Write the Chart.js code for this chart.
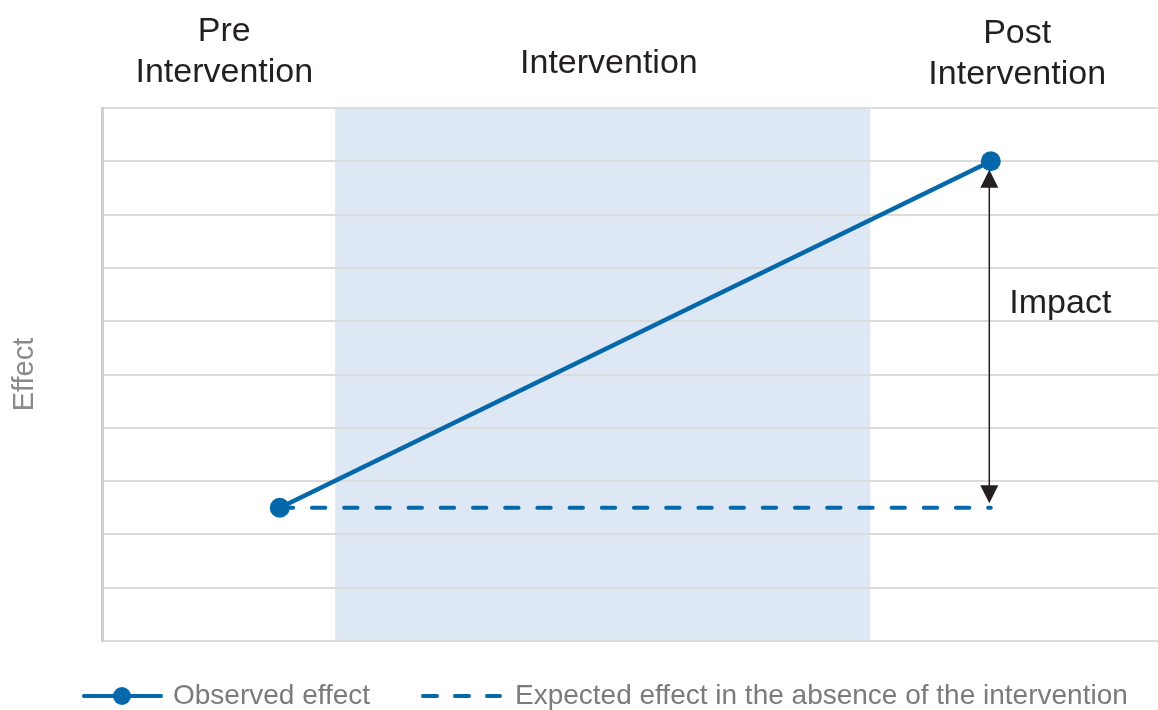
<!DOCTYPE html>
<html>
<head>
<meta charset="utf-8">
<title>Intervention impact</title>
<script src="https://cdn.jsdelivr.net/npm/chart.js@4.4.1/dist/chart.umd.min.js"></script>
<style>
  html, body { margin: 0; padding: 0; background: #ffffff; }
  #wrap { width: 1158px; height: 710px; position: relative; }
</style>
</head>
<body>
<div id="wrap"><canvas id="chart" width="1158" height="710"></canvas></div>
<script>
// Time axis positions (arbitrary units) and effect values
const timePoints = [2.02, 10.1];
const observedEffect = [2.5, 9];
const expectedEffect = [2.5, 2.5];

// Phase headings and where they sit along the time axis
const phaseLabels = [["Pre", "Intervention"], ["Intervention"], ["Post", "Intervention"]];
const phaseCenters = [1.39, 5.76, 10.4];

// Intervention period (shaded band)
const interventionSpan = [2.65, 8.73];

const legendLabels = ["Observed effect", "Expected effect in the absence of the intervention"];
const impactLabel = "Impact";
const axisTitle = "Effect";

const BLUE = "#0568aa";
const FONT = "'Liberation Sans', Arial, Helvetica, sans-serif";

const toPoints = (xs, ys) => xs.map((x, i) => ({ x: x, y: ys[i] }));

// Shaded intervention band, drawn under the grid
const bandPlugin = {
  id: "band",
  beforeDraw(chart) {
    const { ctx, scales: { x, y } } = chart;
    const x0 = x.getPixelForValue(interventionSpan[0]);
    const x1 = x.getPixelForValue(interventionSpan[1]);
    const y0 = y.getPixelForValue(y.max);
    const y1 = y.getPixelForValue(y.min);
    ctx.save();
    ctx.fillStyle = "#dde8f4";
    ctx.fillRect(x0, y0, x1 - x0, y1 - y0);
    ctx.restore();
  }
};

// Double-headed arrow between observed and expected end values, phase headings, legend
const annotatePlugin = {
  id: "annotate",
  afterDatasetsDraw(chart) {
    const { ctx, scales: { x, y } } = chart;
    const last = timePoints.length - 1;
    const ax = x.getPixelForValue(timePoints[last]) - 1.5;
    const yTop = y.getPixelForValue(observedEffect[last]) + 8.5;
    const yBot = y.getPixelForValue(expectedEffect[last]) - 4.5;
    const head = 18, half = 9;
    ctx.save();
    ctx.strokeStyle = "#231f20";
    ctx.fillStyle = "#231f20";
    ctx.lineWidth = 1.5;
    ctx.beginPath();
    ctx.moveTo(ax, yTop + head - 2);
    ctx.lineTo(ax, yBot - head + 2);
    ctx.stroke();
    ctx.beginPath();
    ctx.moveTo(ax, yTop);
    ctx.lineTo(ax - half, yTop + head);
    ctx.lineTo(ax + half, yTop + head);
    ctx.closePath();
    ctx.fill();
    ctx.beginPath();
    ctx.moveTo(ax, yBot);
    ctx.lineTo(ax - half, yBot - head);
    ctx.lineTo(ax + half, yBot - head);
    ctx.closePath();
    ctx.fill();

    ctx.font = "34px " + FONT;
    ctx.textAlign = "left";
    ctx.textBaseline = "middle";
    ctx.fillText(impactLabel, ax + 20, (yTop + yBot) / 2 - 33);
    ctx.restore();
  },
  afterDraw(chart) {
    const { ctx, scales: { x } } = chart;
    ctx.save();
    ctx.fillStyle = "#231f20";
    ctx.font = "34px " + FONT;
    ctx.textAlign = "center";
    ctx.textBaseline = "alphabetic";
    const baselines = [[41, 82], [73], [43, 84]];
    phaseLabels.forEach((lines, i) => {
      const cx = x.getPixelForValue(phaseCenters[i]);
      lines.forEach((t, j) => ctx.fillText(t, cx, baselines[i][j]));
    });

    // Legend
    const ly = 696;
    ctx.strokeStyle = BLUE;
    ctx.fillStyle = BLUE;
    ctx.lineWidth = 4;
    ctx.lineCap = "round";
    ctx.beginPath();
    ctx.moveTo(84, ly);
    ctx.lineTo(161, ly);
    ctx.stroke();
    ctx.beginPath();
    ctx.arc(122, ly, 9, 0, Math.PI * 2);
    ctx.fill();
    ctx.setLineDash([14, 18]);
    ctx.beginPath();
    ctx.moveTo(423, ly);
    ctx.lineTo(500, ly);
    ctx.stroke();
    ctx.setLineDash([]);

    ctx.fillStyle = "#7b7b7b";
    ctx.font = "28px " + FONT;
    ctx.textAlign = "left";
    ctx.textBaseline = "middle";
    ctx.fillText(legendLabels[0], 173, ly);
    ctx.fillText(legendLabels[1], 515, ly);
    ctx.restore();
  }
};

new Chart(document.getElementById("chart"), {
  type: "line",
  data: {
    datasets: [
      {
        label: legendLabels[0],
        data: toPoints(timePoints, observedEffect),
        borderColor: BLUE,
        backgroundColor: BLUE,
        borderWidth: 4.5,
        pointRadius: 10,
        pointHoverRadius: 10,
        pointBackgroundColor: BLUE,
        pointBorderWidth: 0,
        tension: 0
      },
      {
        label: legendLabels[1],
        data: toPoints(timePoints, expectedEffect),
        borderColor: BLUE,
        borderWidth: 4,
        borderDash: [13.4, 18.8],
        borderCapStyle: "round",
        pointRadius: 0,
        tension: 0
      }
    ]
  },
  options: {
    responsive: false,
    animation: false,
    layout: { autoPadding: false, padding: { top: 108, bottom: 69, left: 0, right: 0 } },
    plugins: {
      legend: { display: false },
      tooltip: { enabled: false }
    },
    scales: {
      x: {
        type: "linear",
        min: 0,
        max: 12,
        display: false
      },
      y: {
        min: 0,
        max: 10,
        ticks: { display: false, stepSize: 1 },
        grid: { color: "#dcdcdc", lineWidth: 2, drawTicks: false },
        border: { display: true, color: "#cfcfcf", width: 3 },
        title: {
          display: true,
          text: axisTitle,
          color: "#8a8a8a",
          font: { family: FONT, size: 29 },
          padding: { top: 8, bottom: 0 }
        },
        afterFit(scale) { scale.width = 102; }
      }
    }
  },
  plugins: [bandPlugin, annotatePlugin]
});
</script>
</body>
</html>
